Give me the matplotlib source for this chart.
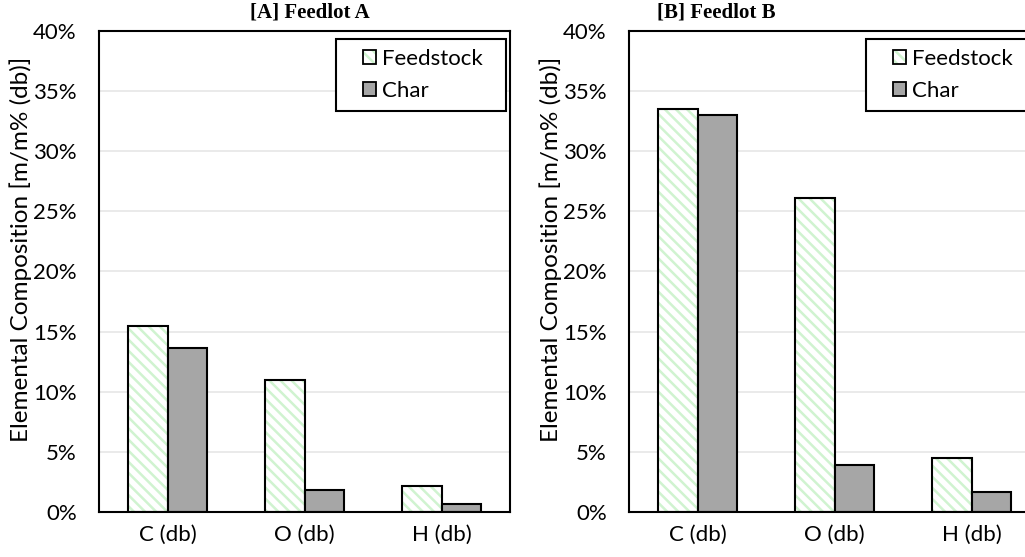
import matplotlib.pyplot as plt
import numpy as np
from matplotlib.patches import Patch, Rectangle
from matplotlib.legend_handler import HandlerTuple
from matplotlib.ticker import PercentFormatter

categories = ['C (db)', 'O (db)', 'H (db)']
feedstock_a = [15.5, 10.95, 2.15]
char_a = [13.6, 1.85, 0.7]
feedstock_b = [33.55, 26.1, 4.45]
char_b = [33.0, 3.9, 1.7]
titles = ['[A] Feedlot A', '[B] Feedlot B']

plt.rcParams['font.family'] = ['Lato', 'DejaVu Sans']
plt.rcParams['hatch.linewidth'] = 1.8

HATCH_COL = '#d0f3d0'
CHAR_COL = '#a6a6a6'

fig = plt.figure(figsize=(10.25, 5.57), dpi=100)
ax_a = fig.add_axes([0.0966, 0.0808, 0.401, 0.8636])
ax_b = fig.add_axes([0.6137, 0.0808, 0.401, 0.8636])

w = 0.29
x = np.arange(len(categories))
for ax, feed, char in [(ax_a, feedstock_a, char_a), (ax_b, feedstock_b, char_b)]:
    ax.set_axisbelow(True)
    ax.grid(axis='y', color='#e6e6e6', lw=1.2)
    # hatch first, then black outline on top
    ax.bar(x - w / 2, feed, w, facecolor='white', edgecolor=HATCH_COL, hatch='\\\\\\', lw=0)
    ax.bar(x - w / 2, feed, w, fill=False, edgecolor='black', lw=1.5)
    ax.bar(x + w / 2, char, w, color=CHAR_COL, edgecolor='black', lw=1.5)
    ax.set_xlim(-0.5, 2.5)
    ax.set_ylim(0, 40)
    ax.set_yticks(np.arange(0, 41, 5))
    ax.yaxis.set_major_formatter(PercentFormatter(decimals=0))
    ax.set_xticks(x)
    ax.set_xticklabels(categories)
    ax.tick_params(length=0, labelsize=16, colors='black')
    ax.tick_params(axis='x', pad=9)
    ax.tick_params(axis='y', pad=16)
    for s in ax.spines.values():
        s.set_linewidth(1.5)
    ax.set_ylabel('Elemental Composition [m/m% (db)]', fontsize=17.5)
    ax.yaxis.set_label_coords(-0.163, 0.545)

    # legend frame drawn separately (Excel-style wide left margin)
    ax.add_patch(Rectangle((0.577, 0.834), 0.413, 0.149, transform=ax.transAxes,
                           facecolor='white', edgecolor='black', lw=1.5, zorder=5))
    feed_handle = (Patch(facecolor='white', edgecolor=HATCH_COL, hatch='\\\\\\', lw=0),
                   Patch(fill=False, edgecolor='black', lw=1.3))
    char_handle = Patch(facecolor=CHAR_COL, edgecolor='black', lw=1.3)
    leg = ax.legend([feed_handle, char_handle], ['Feedstock', 'Char'],
                    handler_map={tuple: HandlerTuple(ndivide=1, pad=0)},
                    loc='center left', bbox_to_anchor=(0.642, 0.9085),
                    frameon=False, fontsize=16,
                    handlelength=0.6, handleheight=0.6, handletextpad=0.25,
                    borderpad=0, labelspacing=0.55, borderaxespad=0)
    leg.set_zorder(6)

fig.text(310 / 1025, 1 - 12 / 557, titles[0], ha='center', va='center', fontsize=15,
         fontweight='bold', family='Liberation Serif')
fig.text(716 / 1025, 1 - 12 / 557, titles[1], ha='center', va='center', fontsize=15,
         fontweight='bold', family='Liberation Serif')

fig.savefig('out.png', dpi=100)
